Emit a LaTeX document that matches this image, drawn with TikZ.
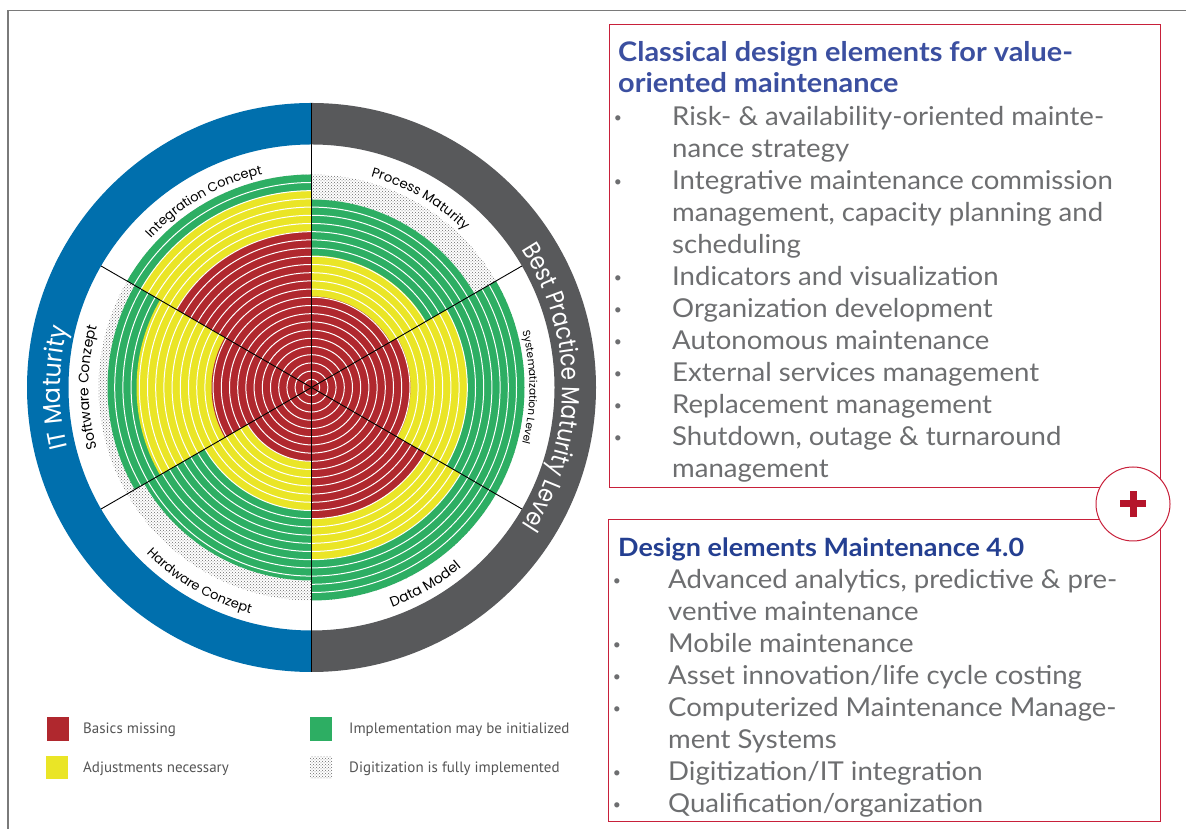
\documentclass[tikz,border=0pt]{standalone}
\usepackage{fontspec}
\setmainfont{Lato}
\newfontfamily\bodyfont{Lato}[FakeStretch=1.06]
\newfontfamily\titlefont{Lato}[FakeStretch=1.07]
\newfontfamily\wheelfont{Poppins}
\newfontfamily\ringfontA{Poppins}[FakeStretch=0.95]
\newfontfamily\ringfontB{Poppins}[FakeStretch=0.86]
\newfontfamily\legfont{PT Sans}
\usetikzlibrary{decorations.text,patterns}
\definecolor{cred}{HTML}{B0282E}
\definecolor{cyel}{HTML}{EAE526}
\definecolor{cgreen}{HTML}{2DAE63}
\definecolor{cblue}{HTML}{006FAD}
\definecolor{cgray}{HTML}{58595B}
\definecolor{ttlblue}{HTML}{3B4FA0}
\definecolor{ttlblue2}{HTML}{243F91}
\definecolor{boxred}{HTML}{C8203A}
\definecolor{plusred}{HTML}{B5152B}
\definecolor{txtgray}{HTML}{6D6E70}
\definecolor{leggray}{HTML}{555555}
\definecolor{framegray}{HTML}{7A7A7A}
\definecolor{dotgray}{HTML}{6A6A6A}
\tikzset{
  body/.style={anchor=base west, inner sep=0pt, text=txtgray, font=\bodyfont\fontsize{26}{30}\selectfont},
  bul/.style={anchor=base, inner sep=0pt, text=txtgray, font=\fontsize{14}{16}\selectfont},
  ttl/.style={anchor=base west, inner sep=0pt, font=\titlefont\bfseries\fontsize{27}{30}\selectfont},
  ttlb/.style={anchor=base west, inner sep=0pt, font=\titlefont\bfseries\fontsize{25.2}{30}\selectfont},
  legtext/.style={anchor=base west, inner sep=0pt, text=leggray, font=\legfont\fontsize{15}{17}\selectfont},
  boxframe/.style={draw=boxred, line width=1pt},
  divline/.style={black, line width=0.9pt},
  ringline/.style={white, line width=1pt},
}
\begin{document}
\begin{tikzpicture}[x=1pt,y=1pt]
\useasboundingbox[fill=white] (0,0) rectangle (1186,829);
% frame
\draw[framegray, line width=1.8pt] (8.3,0) -- (8.3,818.5) -- (1186,818.5);

% ---------------- wheel ----------------
\begin{scope}[shift={(311.5,441.5)}]
  \coordinate (ctr) at (0,0);
  \fill[cblue] (90:284.5) arc[start angle=90,end angle=270,radius=284.5] -- (270:243) arc[start angle=270,end angle=90,radius=243] -- cycle;
  \fill[cgray] (90:284.5) arc[start angle=90,end angle=-90,radius=284.5] -- (-90:243) arc[start angle=-90,end angle=90,radius=243] -- cycle;
  \foreach \a/\b/\r/\y/\g/\d in {90/150/156/197/213/213, 30/90/91/132/188/213, -30/30/99/156/213/213, -90/-30/131/172/213/213, 210/270/74/123/193/213, 150/210/100/175/204/213}{
    \fill[pattern=crosshatch dots, pattern color=dotgray] (0,0) -- (\a:\d) arc[start angle=\a,end angle=\b,radius=\d] -- cycle;
    \fill[cgreen] (0,0) -- (\a:\g) arc[start angle=\a,end angle=\b,radius=\g] -- cycle;
    \fill[cyel] (0,0) -- (\a:\y) arc[start angle=\a,end angle=\b,radius=\y] -- cycle;
    \fill[cred] (0,0) -- (\a:\r) arc[start angle=\a,end angle=\b,radius=\r] -- cycle;
    \begin{scope}
      \clip (0,0) -- (\a:\g) arc[start angle=\a,end angle=\b,radius=\g] -- cycle;
      \foreach \k in {1,...,25} \draw[ringline] (0,0) circle ({\k*8.2});
    \end{scope}
  }
  % dividing lines
  \coordinate (top) at (90:284.5);
  \coordinate (bot) at (-90:284.5);
  \coordinate (d30) at (30:243);
  \coordinate (d150) at (150:243);
  \coordinate (d210) at (210:243);
  \coordinate (d330) at (-30:243);
  \draw[divline] (top) -- (bot);
  \draw[divline] (ctr) -- (d30);
  \draw[divline] (ctr) -- (d150);
  \draw[divline] (ctr) -- (d210);
  \draw[divline] (ctr) -- (d330);
  % sector labels
  \path[decorate, decoration={text along path, text align=center, text={|\wheelfont\fontsize{13}{15}\selectfont|Integration Concept}}] (150:219) arc[start angle=150,end angle=90,radius=219];
  \path[decorate, decoration={text along path, text align=center, text={|\wheelfont\fontsize{13.3}{15}\selectfont|Process Maturity}}] (90:219) arc[start angle=90,end angle=30,radius=219];
  \path[decorate, decoration={text along path, text align=center, text={|\wheelfont\fontsize{10.5}{12}\selectfont|Systematization Level}}] (30:218) arc[start angle=30,end angle=-30,radius=218];
  \path[decorate, decoration={text along path, text align=center, text={|\wheelfont\fontsize{14}{16}\selectfont|Data Model}}] (-90:234) arc[start angle=-90,end angle=-30,radius=234];
  \path[decorate, decoration={text along path, text align=center, text={|\wheelfont\fontsize{13}{15}\selectfont|Hardware Conzept}}] (210:234) arc[start angle=210,end angle=270,radius=234];
  \path[decorate, decoration={text along path, text align=center, text={|\wheelfont\fontsize{14}{16}\selectfont|Software Conzept}}] (210:223) arc[start angle=210,end angle=150,radius=223];
  % ring labels
  \path[decorate, decoration={text along path, text align=center, text color=white, text={|\ringfontA\fontsize{25}{28}\selectfont|IT Maturity}}] (220:251) arc[start angle=220,end angle=140,radius=251];
  \path[decorate, decoration={text along path, text align=center, text color=white, text={|\ringfontB\fontsize{25}{28}\selectfont|Best Practice Maturity Level}}] (60:251) arc[start angle=60,end angle=-60,radius=251];
\end{scope}

% ---------------- legend ----------------
\fill[cred] (47,88) rectangle (69,112);
\fill[cyel] (46,50) rectangle (68,73);
\fill[cgreen] (310,88) rectangle (332,112);
\fill[pattern=crosshatch dots, pattern color=dotgray] (310,50) rectangle (332,72);
\node[legtext] (l1) at (83,95) {Basics missing};
\node[legtext] (l2) at (83,56) {Adjustments necessary};
\node[legtext] (l3) at (349,95) {Implementation may be initialized};
\node[legtext] (l4) at (349,56) {Digitization is fully implemented};

% ---------------- box 1 ----------------
\draw[boxframe] (609,804) rectangle (1160,341);
\node[ttl, text=ttlblue] (t1a) at (618,767) {Classical design elements for value-};
\node[ttl, text=ttlblue] (t1b) at (618,736) {oriented maintenance};
\foreach \yy in {706,642,546,514,482,450,418,386}{\node[bul] at (618,\yy) {•};}
\node[body] (b1) at (672,703) {Risk- \& availability-oriented mainte-};
\node[body] (b2) at (672,671) {nance strategy};
\node[body] (b3) at (672,639) {Integrative maintenance commission};
\node[body] (b4) at (672,607) {management, capacity planning and};
\node[body] (b5) at (672,575) {scheduling};
\node[body] (b6) at (672,543) {Indicators and visualization};
\node[body] (b7) at (672,511) {Organization development};
\node[body] (b8) at (672,479) {Autonomous maintenance};
\node[body] (b9) at (672,447) {External services management};
\node[body] (b10) at (672,415) {Replacement management};
\node[body] (b11) at (672,383) {Shutdown, outage \& turnaround};
\node[body] (b12) at (672,351) {management};

% ---------------- box 2 ----------------
\draw[boxframe] (608,309) rectangle (1160,7);
\node[ttlb, text=ttlblue2] (t2) at (618,272) {Design elements Maintenance 4.0};
\foreach \yy in {243,179,147,115,51,19}{\node[bul] at (617,\yy) {•};}
\node[body] (c1) at (668,240) {Advanced analytics, predictive \& pre-};
\node[body] (c2) at (668,208) {ventive maintenance};
\node[body] (c3) at (668,176) {Mobile maintenance};
\node[body] (c4) at (668,144) {Asset innovation/life cycle costing};
\node[body] (c5) at (668,112) {Computerized Maintenance Manage-};
\node[body] (c6) at (668,80) {ment Systems};
\node[body] (c7) at (668,48) {Digitization/IT integration};
\node[body] (c8) at (668,16) {Qualification/organization};

% plus circle
\node[circle, draw=boxred, fill=white, line width=1pt, minimum size=74pt, inner sep=0pt] (plus) at (1133,325) {};
\fill[plusred] (1120,321.5) rectangle (1146,328.5);
\fill[plusred] (1129.5,312) rectangle (1136.5,338);
\end{tikzpicture}
\end{document}
